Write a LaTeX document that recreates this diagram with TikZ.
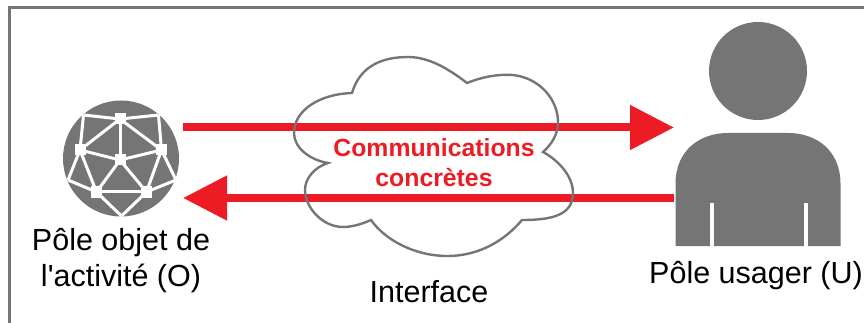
\documentclass[tikz,border=0pt]{standalone}
\usepackage{fontspec}
\setmainfont{Liberation Sans}[Ligatures=TeXOff]
\usepackage{xcolor}
\usetikzlibrary{arrows.meta, positioning}
\definecolor{polegray}{HTML}{757575}
\definecolor{comred}{HTML}{ED1C24}
\tikzset{
  comarrow/.style={comred, line width=8pt, -{Triangle[length=44pt, width=43pt]}},
  meshline/.style={white, line width=3pt},
  meshknot/.style={fill=white, inner sep=0pt, minimum size=11pt},
  poletext/.style={black, font=\fontsize{30.5}{36}\selectfont, align=center},
}
\begin{document}
\begin{tikzpicture}[x=1pt, y=-1pt]
  \useasboundingbox (0, 0) rectangle (864, 323);
  \draw[polegray, line width=3pt] (9.5, 323) -- (9.5, 7.5) -- (864, 7.5);

  % pole objet
  \node[circle, fill=polegray, inner sep=0pt, minimum size=116pt] (globe) at (121, 158.5) {};
  \coordinate (rimTL) at (83.5, 115);
  \coordinate (rimTR) at (158.5, 115);
  \coordinate (rimL) at (68, 180);
  \coordinate (rimR) at (176, 180);
  \coordinate (rimB) at (121.5, 216);
  \node[meshknot] (knotT) at (120, 119) {};
  \node[meshknot] (knotC) at (120, 160) {};
  \node[meshknot] (knotL) at (80, 150) {};
  \node[meshknot] (knotR) at (161.5, 150) {};
  \node[meshknot] (knotBL) at (96.5, 192) {};
  \node[meshknot] (knotBR) at (146.5, 192) {};
  \foreach \a/\b in {knotT/rimTL, knotT/rimTR, rimTL/knotL, rimTR/knotR, knotT/knotL, knotT/knotR,
      knotT/knotC, knotL/knotC, knotR/knotC, knotL/rimL, knotR/rimR, knotL/knotBL, knotR/knotBR,
      knotC/knotBL, knotC/knotBR, knotBL/knotBR, rimL/knotBL, rimR/knotBR, knotBL/rimB, knotBR/rimB}
    \draw[meshline] (\a.center) -- (\b.center);

  % pole usager
  \node[circle, fill=polegray, inner sep=0pt, minimum size=98pt] (head) at (758, 71) {};
  \fill[polegray] (675.5, 246) -- (675.5, 184) .. controls (675.5, 150) and (700, 133) .. (728, 133)
    -- (788, 133) .. controls (816, 133) and (840.5, 150) .. (840.5, 184) -- (840.5, 246) -- cycle;
  \fill[white] (709.5, 203) rectangle (713.5, 247);
  \fill[white] (803.5, 203) rectangle (808, 247);

  % echanges
  \coordinate (fromO) at (183, 127.5);
  \coordinate (toU) at (674, 127.5);
  \coordinate (fromU) at (674, 198);
  \coordinate (toO) at (183, 198);
  \draw[comarrow] (fromO) -- (toU);
  \draw[comarrow] (fromU) -- (toO);

  % interface
  \draw[polegray, line width=2.4pt, line join=miter]
    (352, 93) .. controls (360, 66) and (382, 57) .. (408, 57)
    .. controls (430, 57) and (450, 70) .. (467, 83)
    .. controls (482, 77) and (497, 74) .. (513, 75)
    .. controls (540, 78) and (558, 100) .. (558, 122)
    .. controls (558, 134) and (552, 144) .. (543, 152)
    .. controls (558, 160) and (573, 176) .. (573, 193)
    .. controls (573, 216) and (550, 220) .. (522, 220)
    .. controls (505, 240) and (480, 256) .. (447, 256)
    .. controls (415, 256) and (385, 240) .. (371, 220)
    .. controls (360, 225) and (350, 227) .. (343, 227)
    .. controls (322, 227) and (305, 207) .. (305, 190)
    .. controls (305, 178) and (315, 167) .. (328, 163)
    .. controls (310, 160) and (294, 148) .. (294, 133)
    .. controls (294, 110) and (320, 94) .. (352, 93) -- cycle;

  \node[comred, align=center, font=\bfseries\fontsize{24.8}{30}\selectfont] (comlabel) at (434, 162.5) {Communications\\concrètes};
  \node[poletext] (objlabel) at (121, 261) {Pôle objet de\\l'activité (O)};
  \node[poletext, anchor=base] (usrlabel) at (756, 283) {Pôle usager (U)};
  \node[poletext, anchor=base] (intlabel) at (429, 302) {Interface};
\end{tikzpicture}
\end{document}
